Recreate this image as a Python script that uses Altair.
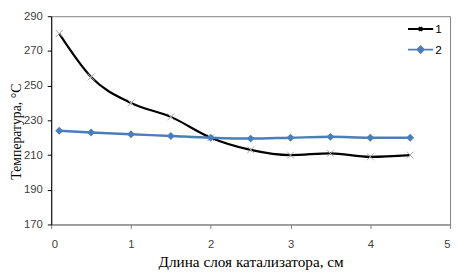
import altair as alt
import pandas as pd

x_cm = [0.1, 0.5, 1, 1.5, 2, 2.5, 3, 3.5, 4, 4.5]
temp_1 = [280, 255, 240, 232, 220, 213, 210, 211, 209, 210]
temp_2 = [224, 223, 222, 221, 220, 219.5, 220, 220.5, 220, 220]
series_names = ["1", "2"]
x_ticks = [0, 1, 2, 3, 4, 5]
y_ticks = [170, 190, 210, 230, 250, 270, 290]

df = pd.DataFrame({
    "x": x_cm + x_cm,
    "t": temp_1 + temp_2,
    "s": [series_names[0]] * len(x_cm) + [series_names[1]] * len(x_cm),
})

BLUE = "#4a7ebb"
SERIF = "Liberation Serif"
xenc = alt.X("x:Q", scale=alt.Scale(domain=[0, 5], nice=False),
             axis=alt.Axis(values=x_ticks, title="Длина слоя катализатора, см",
                           grid=False, tickSize=4, labelPadding=10,
                           domainColor="#7f7f7f", tickColor="#7f7f7f",
                           titleFont=SERIF, titleFontSize=15.5,
                           titleBaseline="middle", titleY=38))
yenc = alt.Y("t:Q", scale=alt.Scale(domain=[170, 290], nice=False, zero=False),
             axis=alt.Axis(values=y_ticks, title="Температура, °С",
                           grid=False, tickSize=4, labelPadding=5,
                           domainColor="#000000", tickColor="#000000",
                           titleFont=SERIF, titleFontSize=14,
                           titleAngle=-90, titleBaseline="middle",
                           titleX=-35.5, titleY=117))

base = alt.Chart(df)
line1 = base.transform_filter("datum.s == '1'").mark_line(
    interpolate="monotone", color="black", strokeWidth=2.2).encode(xenc, yenc)
line2 = base.transform_filter("datum.s == '2'").mark_line(
    interpolate="monotone", color=BLUE, strokeWidth=2.5).encode(xenc, yenc)
pts1 = base.transform_filter("datum.s == '1'").mark_point(
    shape="M-1,-1L1,1M-1,1L1,-1", color="#a6a6a6", size=49, strokeWidth=1,
    opacity=1).encode(xenc, yenc)
pts2 = base.transform_filter("datum.s == '2'").mark_point(
    shape="diamond", filled=True, color=BLUE, size=64, opacity=1).encode(xenc, yenc)

leg = alt.Legend(title=None, orient="none", legendX=367, legendY=4, padding=0,
                 symbolOpacity=1, symbolStrokeWidth=2, symbolSize=256,
                 rowPadding=6, labelOffset=6, labelFont="Liberation Sans",
                 labelFontSize=12, labelColor="#000000")
p1 = "M-1.6,0H1.6M-0.22,-0.22L0.22,0.22M-0.22,0.22L0.22,-0.22"
p2 = "M-1.6,0H1.6M0,-0.4L0.4,0L0,0.4L-0.4,0Z"
legend_layer = base.mark_point(opacity=0).encode(
    xenc, yenc,
    shape=alt.Shape("s:N", scale=alt.Scale(domain=series_names, range=[p1, p2]), legend=leg),
    stroke=alt.Stroke("s:N", scale=alt.Scale(domain=series_names, range=["black", BLUE]), legend=leg),
    fill=alt.Fill("s:N", scale=alt.Scale(domain=series_names, range=["transparent", BLUE]), legend=leg),
)

chart = alt.layer(line1, line2, pts1, pts2, legend_layer).properties(
    width=406, height=212,
    autosize=alt.AutoSizeParams(type="none"),
    padding={"left": 44, "top": 6, "right": 4, "bottom": 46},
).configure_view(stroke="#7f7f7f", strokeWidth=1).configure_axis(
    labelFont="Liberation Sans", labelFontSize=11.5, labelColor="#404040",
    titleFont=SERIF, titleFontWeight="normal", titleColor="#000000",
)

chart.save("out.html", embed_options={"renderer": "svg", "actions": False})
